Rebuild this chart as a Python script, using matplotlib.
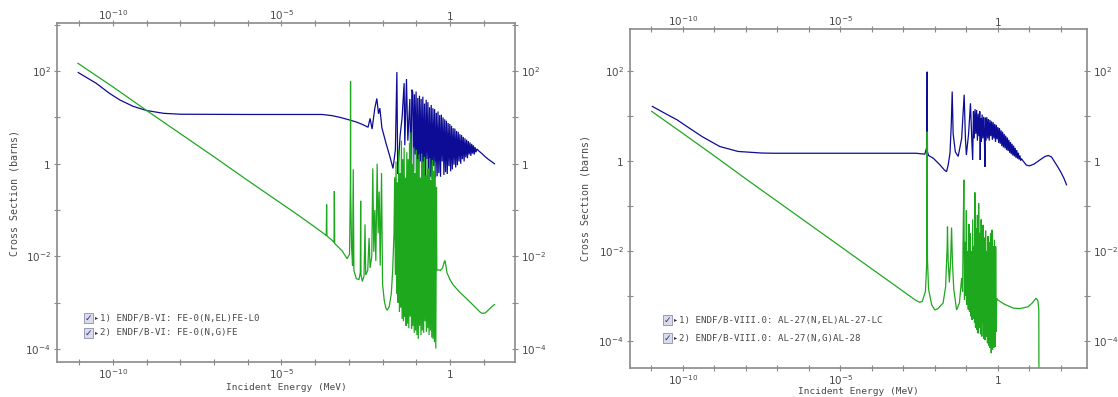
import numpy as np
import matplotlib
matplotlib.use("Agg")
import matplotlib.pyplot as plt
from matplotlib.patches import Rectangle

# ---------------- data (log10 of energy in MeV, log10 of cross section in barns) -------------
fe_el = [(-11.03, 1.97), (-10.5, 1.74), (-10.1, 1.52), (-9.8, 1.38), (-9.4, 1.24), (-9.0, 1.15),
         (-8.5, 1.09), (-8.0, 1.07), (-6.0, 1.065), (-3.8, 1.065), (-3.5, 1.04), (-3.25, 1.0),
         (-3.0, 0.95), (-2.77, 0.9), (-2.6, 0.85), (-2.43, 0.79),
         (-2.37, 0.98), (-2.31, 0.75), (-2.23, 1.2), (-2.17, 1.41), (-2.12, 1.08), (-2.08, 1.2),
         (-2.02, 0.78), (-1.90, 0.45), (-1.78, 0.15), (-1.69, -0.1), (-1.62, 0.3), (-1.575, 1.98),
         (-1.55, -0.22), (-1.48, 0.6), (-1.42, 1.0), (-1.36, 1.74), (-1.34, 0.4), (-1.29, 1.83),
         (-1.25, 0.5), (-1.19, 1.4), (-1.16, -0.25), (-1.13, 1.6),
         (-1.105, 1.55), (-1.080, -0.15), (-1.055, 1.50), (-1.030, 0.20), (-1.005, 1.56),
         (-0.980, -0.35), (-0.955, 1.42), (-0.930, -0.43), (-0.905, 1.47), (-0.880, 0.05),
         (-0.855, 1.40), (-0.830, -0.38), (-0.805, 1.45), (-0.780, -0.30), (-0.755, 1.30),
         (-0.730, -0.36), (-0.705, 1.38), (-0.680, 0.10), (-0.655, 1.33), (-0.630, -0.32),
         (-0.605, 1.22), (-0.580, -0.28), (-0.555, 1.27), (-0.530, -0.34), (-0.505, 1.20),
         (-0.480, -0.05), (-0.455, 1.18), (-0.430, -0.30), (-0.405, 1.10), (-0.380, -0.27),
         (-0.355, 1.13), (-0.330, -0.20), (-0.305, 1.05), (-0.280, -0.28), (-0.255, 1.06),
         (-0.230, 0.05), (-0.205, 1.00), (-0.180, -0.24), (-0.155, 0.96), (-0.130, -0.18),
         (-0.105, 0.93), (-0.080, -0.22), (-0.055, 0.88), (-0.030, -0.05), (-0.005, 0.86),
         (0.020, -0.16), (0.045, 0.82), (0.070, -0.12), (0.095, 0.77), (0.120, -0.02),
         (0.145, 0.76), (0.170, -0.08), (0.195, 0.71), (0.220, -0.03), (0.245, 0.69),
         (0.270, 0.05), (0.295, 0.64), (0.320, 0.00), (0.345, 0.62), (0.370, 0.10),
         (0.395, 0.58), (0.420, 0.05), (0.445, 0.55), (0.470, 0.14), (0.495, 0.52),
         (0.520, 0.12), (0.545, 0.49), (0.570, 0.20), (0.595, 0.46), (0.620, 0.17),
         (0.645, 0.43), (0.670, 0.22), (0.695, 0.40), (0.720, 0.20), (0.745, 0.36),
         (0.770, 0.25), (0.800, 0.32),
         (0.85, 0.28), (0.95, 0.22), (1.05, 0.15), (1.15, 0.09), (1.25, 0.04), (1.32, 0.0)]

fe_cap = [(-11.04, 2.17), (-10.0, 1.66), (-9.0, 1.15), (-8.0, 0.65), (-7.0, 0.15), (-6.0, -0.36),
          (-5.0, -0.86), (-4.5, -1.11), (-4.0, -1.37), (-3.7, -1.53), (-3.67, -1.55), (-3.66, -0.88),
          (-3.65, -1.56), (-3.5, -1.65), (-3.44, -1.70), (-3.43, -0.59), (-3.42, -1.72), (-3.2, -1.88),
          (-3.05, -2.05), (-2.98, -1.95), (-2.955, -0.5), (-2.95, 1.78), (-2.945, -0.6), (-2.92, -1.8),
          (-2.89, -2.2), (-2.87, -0.12), (-2.85, -2.3), (-2.78, -2.48), (-2.70, -2.5), (-2.66, -2.35),
          (-2.65, -0.8), (-2.64, -2.4), (-2.60, -2.54), (-2.55, -2.42), (-2.52, -1.31), (-2.50, -2.4),
          (-2.44, -2.3), (-2.40, -1.6), (-2.37, -2.25), (-2.32, -2.0), (-2.29, -0.1), (-2.26, -1.9),
          (-2.23, -1.0), (-2.20, -2.1), (-2.16, 0.0), (-2.13, -1.5), (-2.10, -0.6), (-2.07, -2.2),
          (-2.03, -0.2), (-2.00, -2.6), (-1.95, -2.95), (-1.90, -3.12), (-1.86, -3.16), (-1.80, -3.08),
          (-1.74, -2.8), (-1.70, -2.3), (-1.66, -1.5), (-1.64, -0.3), (-1.62, -2.4),
          (-1.60, 0.05), (-1.58, -2.8), (-1.56, -0.40), (-1.54, -3.0), (-1.52, 0.30), (-1.50, -3.2),
          (-1.48, -0.20), (-1.46, -3.1), (-1.44, 0.50), (-1.42, -3.35), (-1.40, 0.10), (-1.38, -3.4),
          (-1.36, 0.35), (-1.34, -3.3), (-1.32, -0.30), (-1.30, -3.5), (-1.28, 0.25), (-1.26, -3.45),
          (-1.24, 0.10), (-1.22, -3.55), (-1.20, 0.45), (-1.18, -3.3), (-1.16, 0.68), (-1.14, -3.56),
          (-1.12, 0.00), (-1.10, -3.5), (-1.08, 0.35), (-1.06, -3.65), (-1.04, -0.20), (-1.02, -3.6),
          (-1.00, 0.30), (-0.98, -3.7), (-0.96, 0.10), (-0.94, -3.78), (-0.92, 0.20), (-0.90, -3.5),
          (-0.88, -0.30), (-0.86, -3.7), (-0.84, 0.22), (-0.82, -3.6), (-0.80, 0.05), (-0.78, -3.65),
          (-0.76, 0.15), (-0.74, -3.4), (-0.72, -0.25), (-0.70, -3.63), (-0.68, 0.10), (-0.66, -3.55),
          (-0.64, -0.10), (-0.62, -3.7), (-0.60, 0.12), (-0.58, -3.6), (-0.56, -0.35), (-0.54, -3.75),
          (-0.52, 0.08), (-0.50, -3.78), (-0.48, -0.15), (-0.46, -3.85), (-0.44, 0.05), (-0.42, -3.99),
          (-0.40, -0.5), (-0.39, -2.30),
          (-0.35, -2.29), (-0.28, -2.3), (-0.22, -2.25), (-0.17, -2.12), (-0.15, -2.09), (-0.12, -2.2),
          (-0.09, -2.35), (0.0, -2.5), (0.10, -2.62), (0.30, -2.78), (0.49, -2.91), (0.70, -3.06),
          (0.89, -3.2), (0.95, -3.23), (1.05, -3.22), (1.15, -3.15), (1.25, -3.08), (1.32, -3.04)]

al_el = [(-10.97, 1.21), (-10.5, 1.03), (-10.18, 0.91), (-9.8, 0.73), (-9.39, 0.54), (-8.83, 0.32),
         (-8.25, 0.21), (-7.5, 0.175), (-7.13, 0.17), (-2.6, 0.17), (-2.32, 0.15), (-2.26, 0.3),
         (-2.245, 1.98), (-2.235, 0.2), (-2.2, 0.12), (-2.05, 0.06), (-1.85, -0.08), (-1.70, -0.2),
         (-1.63, -0.24), (-1.58, -0.1), (-1.52, 0.17), (-1.48, 0.8), (-1.45, 1.54), (-1.42, 0.6),
         (-1.35, 0.2), (-1.26, 0.10), (-1.15, 0.5), (-1.07, 1.47), (-1.03, 0.5), (-1.0, 0.13),
         (-0.93, 0.6), (-0.87, 1.28), (-0.83, 0.5), (-0.80, 0.02),
         (-0.775, 1.10), (-0.750, 0.50), (-0.725, 1.15), (-0.700, 0.60), (-0.675, 1.13),
         (-0.650, 0.45), (-0.625, 1.05), (-0.600, 0.55), (-0.575, 1.10), (-0.560, 0.02),
         (-0.545, 0.95), (-0.525, 0.42), (-0.500, 1.03), (-0.475, 0.50), (-0.450, 0.98),
         (-0.425, 0.40), (-0.410, -0.13), (-0.395, 0.96), (-0.375, 0.45), (-0.350, 0.97),
         (-0.325, 0.50), (-0.300, 0.93), (-0.275, 0.45), (-0.250, 0.91), (-0.225, 0.55),
         (-0.200, 0.88), (-0.175, 0.47), (-0.150, 0.86), (-0.125, 0.50), (-0.100, 0.82),
         (-0.075, 0.42), (-0.050, 0.80), (-0.025, 0.48), (0.000, 0.75), (0.025, 0.40),
         (0.050, 0.73), (0.075, 0.38), (0.100, 0.68), (0.125, 0.33), (0.150, 0.65),
         (0.175, 0.30), (0.200, 0.60), (0.225, 0.28), (0.250, 0.56), (0.275, 0.24),
         (0.300, 0.52), (0.325, 0.22), (0.350, 0.47), (0.375, 0.18), (0.400, 0.42),
         (0.425, 0.15), (0.450, 0.38), (0.475, 0.12), (0.500, 0.34), (0.525, 0.10),
         (0.550, 0.29), (0.575, 0.07), (0.600, 0.24), (0.625, 0.05), (0.650, 0.18),
         (0.675, 0.03), (0.700, 0.12), (0.725, 0.01), (0.750, 0.05),
         (0.8, 0.0), (0.9, -0.09), (1.0, -0.11), (1.15, -0.07), (1.33, 0.02), (1.5, 0.10),
         (1.6, 0.12), (1.7, 0.09), (1.8, -0.02), (1.9, -0.13), (2.0, -0.25), (2.1, -0.39), (2.18, -0.53)]

al_cap = [(-10.99, 1.10), (-10.0, 0.61), (-9.0, 0.11), (-8.0, -0.40), (-7.0, -0.90), (-6.0, -1.40),
          (-5.0, -1.90), (-4.0, -2.40), (-3.0, -2.90), (-2.6, -3.10), (-2.48, -3.14), (-2.40, -3.12),
          (-2.30, -2.9), (-2.26, -2.3), (-2.245, 0.65), (-2.235, -2.2), (-2.2, -2.85), (-2.1, -3.2),
          (-2.0, -3.31), (-1.9, -3.28), (-1.80, -3.2), (-1.74, -3.16), (-1.66, -2.8), (-1.61, -1.9),
          (-1.60, -1.46), (-1.58, -2.2), (-1.54, -2.7), (-1.50, -2.2), (-1.47, -1.48), (-1.44, -2.3),
          (-1.40, -2.85), (-1.31, -3.31), (-1.22, -3.15), (-1.15, -2.6),
          (-1.12, -2.9), (-1.10, -1.5), (-1.08, -0.42), (-1.06, -3.09), (-1.04, -1.8), (-1.02, -3.0),
          (-1.00, -1.1), (-0.98, -3.2), (-0.96, -2.0), (-0.94, -3.3), (-0.92, -1.4), (-0.90, -3.35),
          (-0.88, -1.61), (-0.86, -3.45), (-0.84, -2.0), (-0.82, -3.53), (-0.80, -1.3), (-0.78, -3.5),
          (-0.76, -1.9), (-0.74, -3.6), (-0.73, -0.70), (-0.71, -3.7), (-0.69, -1.5), (-0.67, -3.75),
          (-0.65, -1.2), (-0.63, -3.83), (-0.61, -0.94), (-0.59, -3.7), (-0.57, -1.6), (-0.55, -3.85),
          (-0.53, -1.3), (-0.51, -3.9), (-0.49, -1.8), (-0.48, -3.6), (-0.47, -1.42), (-0.45, -3.95),
          (-0.43, -1.7), (-0.41, -3.98), (-0.39, -1.55), (-0.37, -3.9), (-0.35, -2.0), (-0.33, -4.05),
          (-0.31, -1.67), (-0.29, -4.1), (-0.27, -1.8), (-0.25, -4.15), (-0.23, -1.6), (-0.21, -4.27),
          (-0.19, -1.53), (-0.17, -4.2), (-0.15, -1.9), (-0.13, -4.15), (-0.11, -1.75), (-0.09, -4.13),
          (-0.07, -1.9), (-0.05, -3.8), (-0.04, -3.05),
          (0.0, -3.09), (0.2, -3.18), (0.49, -3.27), (0.7, -3.28), (0.96, -3.24), (1.1, -3.15),
          (1.21, -3.05), (1.27, -3.1), (1.30, -3.3), (1.31, -7.0)]

left_legend = ["1) ENDF/B-VI: FE-0(N,EL)FE-L0", "2) ENDF/B-VI: FE-0(N,G)FE"]
right_legend = ["1) ENDF/B-VIII.0: AL-27(N,EL)AL-27-LC", "2) ENDF/B-VIII.0: AL-27(N,G)AL-28"]

x_tick_exps = [-10, -5, 0]
left_y_label_exps = [2, 0, -2, -4]
right_y_label_exps = [2, 0, -2, -4]

# ---------------- figure -------------
W, H = 1118, 397
fig = plt.figure(figsize=(W / 100, H / 100), dpi=100)
fig.patch.set_facecolor("white")

BLUE = "#0c0c96"
GREEN = "#1ea81e"
GRAY = "#8a8a8a"
TXT = "#4a4a4a"
MONO = "DejaVu Sans Mono"


def box(l, t, r, b):
    return [l / W, 1 - b / H, (r - l) / W, (b - t) / H]


def sup(k):
    return "$1$" if k == 0 else "$10^{%d}$" % k


def style(ax, xmin_e, xmax_e, ymin_e, ymax_e, ylabel_exps):
    ax.set_xscale("log")
    ax.set_yscale("log")
    ax.set_xlim(10 ** xmin_e, 10 ** xmax_e)
    ax.set_ylim(10 ** ymin_e, 10 ** ymax_e)
    xt = list(range(int(np.ceil(xmin_e)), int(np.floor(xmax_e)) + 1))
    xpos = [10.0 ** k for k in xt]
    xlab = [sup(k) if k in x_tick_exps else "" for k in xt]
    ax.set_xticks(xpos)
    ax.set_xticklabels(xlab)
    yt = list(range(int(np.ceil(ymin_e)), int(np.floor(ymax_e)) + 1))
    ax.set_yticks([10.0 ** k for k in yt])
    ax.set_yticklabels([sup(k) if k in ylabel_exps else "" for k in yt])
    ax.minorticks_off()
    ax.tick_params(axis="both", which="major", direction="inout", length=5, width=0.8,
                   color=GRAY, labelsize=7.5, labelcolor=TXT, top=True, right=True,
                   labeltop=False, labelright=True, pad=2)
    ax.tick_params(axis="x", which="major", pad=1.5)
    sec = ax.secondary_xaxis("top")
    sec.set_xticks(xpos)
    sec.set_xticklabels(xlab)
    sec.minorticks_off()
    sec.tick_params(length=0, pad=0.5, labelsize=7.5, labelcolor=TXT)
    sec.spines["top"].set_visible(False)
    for s in ax.spines.values():
        s.set_color(GRAY)
        s.set_linewidth(1.2)


def draw(ax, data, color):
    arr = np.array(data)
    ax.plot(10 ** arr[:, 0], 10 ** arr[:, 1], color=color, lw=0.9, solid_joinstyle="miter")


def legend(x0, y0, dy, labels):
    for i, lab in enumerate(labels):
        yy = y0 + i * dy
        fig.patches.append(Rectangle((x0 / W, 1 - (yy + 5) / H), 9 / W, 10 / H,
                                     transform=fig.transFigure, facecolor="#d9dcec",
                                     edgecolor="#9a9ab8", lw=0.7))
        fig.text((x0 + 4.5) / W, 1 - yy / H, "\u2713", fontsize=6.5, color="#333366",
                 ha="center", va="center")
        fig.text((x0 + 11) / W, 1 - yy / H, "\u25b8", fontsize=4.5, color="#333333",
                 ha="left", va="center")
        fig.text((x0 + 16) / W, 1 - yy / H, lab, fontsize=6.6, color=TXT, family=MONO,
                 ha="left", va="center")


ax1 = fig.add_axes(box(57, 23, 515, 362))
style(ax1, -11.66, 1.93, -4.28, 3.04, left_y_label_exps)
draw(ax1, fe_el, BLUE)
draw(ax1, fe_cap, GREEN)

ax2 = fig.add_axes(box(630, 29, 1087, 368))
style(ax2, -11.68, 2.83, -4.6, 2.93, right_y_label_exps)
draw(ax2, al_el, BLUE)
draw(ax2, al_cap, GREEN)

for cx, cy in [((57 + 515) / 2, 387), ((630 + 1087) / 2, 392)]:
    fig.text(cx / W, 1 - cy / H, "Incident Energy (MeV)", fontsize=6.8, color=TXT,
             family=MONO, ha="center", va="center")
for cx, cy in [(15, 193), (585, 198)]:
    fig.text(cx / W, 1 - cy / H, "Cross Section (barns)", fontsize=7.2, color=TXT,
             family=MONO, ha="center", va="center", rotation=90)

legend(84, 318, 15, left_legend)
legend(663, 320, 18, right_legend)

fig.savefig("out.png", dpi=100, facecolor="white")
